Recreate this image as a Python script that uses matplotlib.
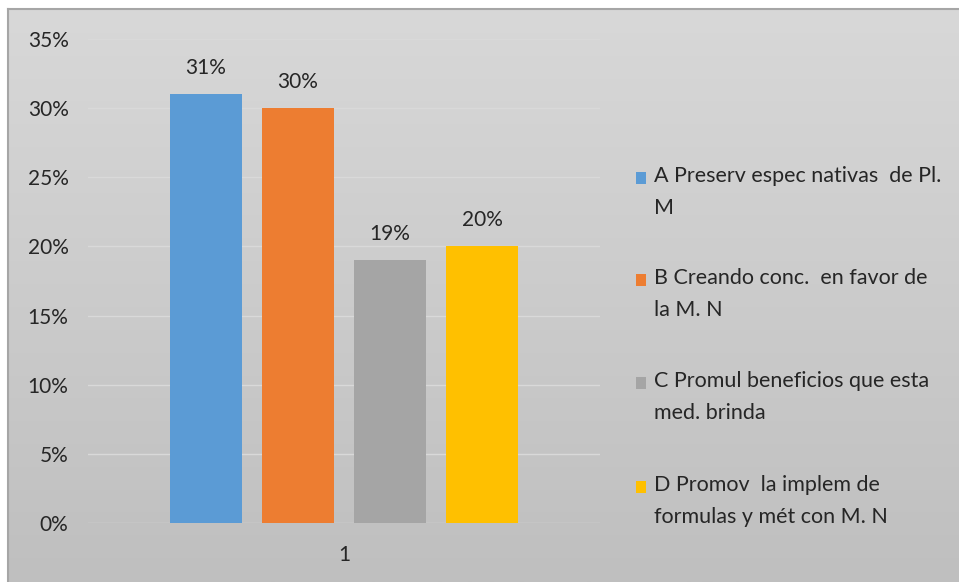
import matplotlib
matplotlib.use("Agg")
import matplotlib.pyplot as plt
import numpy as np
from matplotlib.patches import Rectangle
from matplotlib.ticker import PercentFormatter
from matplotlib.colors import LinearSegmentedColormap

categories = ["1"]
series_labels = ["A Preserv espec nativas  de Pl.\nM",
                 "B Creando conc.  en favor de\nla M. N",
                 "C Promul beneficios que esta\nmed. brinda",
                 "D Promov  la implem de\nformulas y mét con M. N"]
values = [0.31, 0.30, 0.19, 0.20]
value_labels = ["31%", "30%", "19%", "20%"]
colors = ["#5b9bd5", "#ed7d31", "#a5a5a5", "#ffc000"]
yticks = [0, 0.05, 0.10, 0.15, 0.20, 0.25, 0.30, 0.35]

plt.rcParams['font.family'] = ['Lato', 'DejaVu Sans']
W, H = 959, 582
fig = plt.figure(figsize=(W/100, H/100), dpi=100)
fig.patch.set_facecolor("white")

# gradient background panel
bg = fig.add_axes([8/W, 0, 1-8/W, 1-9/H], zorder=-10)
grad = np.linspace(0, 1, 256).reshape(-1, 1)
cmap = LinearSegmentedColormap.from_list("g", ["#d8d8d8", "#bfbfbf"])
bg.imshow(grad, aspect="auto", cmap=cmap, extent=[0, 1, 0, 1], origin="upper")
bg.set_xticks([]); bg.set_yticks([])
for s in ["right", "bottom"]:
    bg.spines[s].set_visible(False)
for s in ["left", "top"]:
    bg.spines[s].set_color("#a6a6a6")
    bg.spines[s].set_linewidth(1.5)

ax = fig.add_axes([88/W, 1-523/H, (600-88)/W, (523-39)/H])
ax.set_facecolor("none")
x0 = 0
width = 72/92
offsets = (np.arange(len(values)) - 1.5)
for i, (v, c, lab) in enumerate(zip(values, colors, value_labels)):
    ax.bar(x0 + offsets[i], v, width=width, color=c, zorder=3)
    ax.text(x0 + offsets[i], v + 0.012, lab, ha="center", va="bottom", fontsize=15, color="#262626")
ax.set_xlim(-512/92/2, 512/92/2)
ax.set_ylim(0, 0.35)
ax.set_yticks(yticks)
ax.yaxis.set_major_formatter(PercentFormatter(1.0, decimals=0))
ax.set_xticks([x0])
ax.set_xticklabels(categories)
ax.grid(axis="y", color="#d9d9d9", linewidth=1, zorder=0)
for s in ax.spines.values():
    s.set_visible(False)
ax.tick_params(axis="both", length=0, labelsize=15, colors="#262626")
ax.tick_params(axis="y", pad=14)
ax.tick_params(axis="x", pad=16)

# legend
ys = [178, 280, 383, 487]
for lab, c, y in zip(series_labels, colors, ys):
    fig.patches.append(Rectangle((636/W, 1-(y+6)/H), 10/W, 12/H, transform=fig.transFigure,
                                 facecolor=c, edgecolor="none"))
    fig.text(654/W, 1-(y-12)/H, lab, ha="left", va="top", fontsize=15.5,
             color="#262626", linespacing=1.75)

fig.savefig("out.png", dpi=100)
